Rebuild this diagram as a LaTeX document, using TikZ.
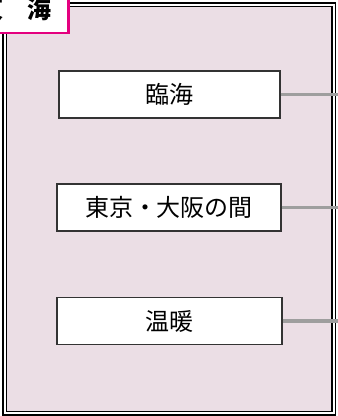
\documentclass[tikz,border=0pt]{standalone}
\usepackage{fontspec}
\setmainfont{Noto Sans CJK JP}
\definecolor{pinkbg}{RGB}{235,222,229}
\definecolor{mag}{RGB}{228,0,127}
\definecolor{conn}{RGB}{158,158,158}
\begin{document}
\begin{tikzpicture}[x=1pt,y=-1pt,
  item/.style={draw=black!80, line width=1.1pt, fill=white, inner sep=0pt,
    font=\fontsize{24}{24}\selectfont},
  link/.style={draw=conn, line width=3.5pt},
  frame/.style={draw=black, line width=1.2pt}]
\useasboundingbox (0,0) rectangle (338,416);
\draw[frame] (3,3) rectangle (335.5,415);
\draw[frame, fill=pinkbg] (6.5,6.5) rectangle (332,411.5);
% items
\node[item, minimum width=221pt, minimum height=47pt] (b1) at (169.5,94.5) {臨海};
\node[item, minimum width=224pt, minimum height=47pt] (b2) at (169,207.5) {東京・大阪の間};
\node[item, minimum width=225pt, minimum height=46.5pt] (b3) at (169.5,321) {温暖};
\coordinate (e1) at (338,94.5);
\coordinate (e2) at (338,207.5);
\coordinate (e3) at (338,321);
\draw[link] (b1.east) -- (e1);
\draw[link] (b2.east) -- (e2);
\draw[link] (b3.east) -- (e3);
% title
\draw[mag, line width=2.8pt, fill=white] (-5,-5) rectangle (68.5,33);
\node[font=\bfseries\fontsize{24}{24}\selectfont, inner sep=0pt] (t) at (15.5,9) {東　海};
\end{tikzpicture}
\end{document}
